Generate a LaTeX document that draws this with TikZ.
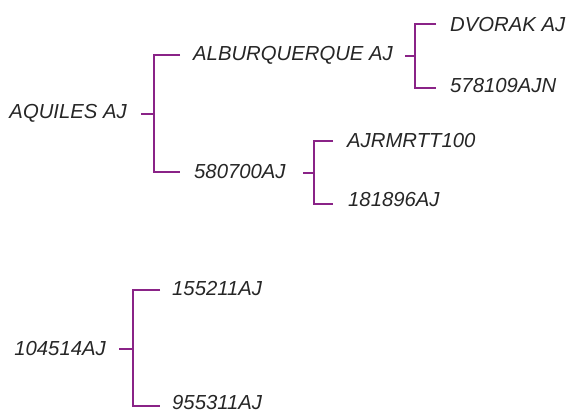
\documentclass[tikz,border=0pt]{standalone}
\usepackage{fontspec}
\setmainfont{Liberation Sans}
\definecolor{brc}{HTML}{8A2387}
\begin{document}
\begin{tikzpicture}[x=1pt,y=-1pt,
  lbl/.style={inner sep=0pt,font=\fontsize{20.3pt}{22pt}\selectfont\itshape,text=black!85},
  br/.style={draw=brc,line width=2.2pt,line cap=butt}]
\useasboundingbox (0,0) rectangle (567,414);
% tree 1
\node[lbl,anchor=east] (aq) at (127,113) {AQUILES AJ};
\node[lbl,anchor=west] (alb) at (193,55) {ALBURQUERQUE AJ};
\node[lbl,anchor=west] (n580) at (194,172) {580700AJ};
\node[lbl,anchor=west] (dv) at (450,25) {DVORAK AJ};
\node[lbl,anchor=west] (n578) at (450,86) {578109AJN};
\node[lbl,anchor=west] (ajr) at (347,141) {AJRMRTT100};
\node[lbl,anchor=west] (n181) at (348,200) {181896AJ};
% tree 2
\node[lbl,anchor=east] (n104) at (106,349) {104514AJ};
\node[lbl,anchor=west] (n155) at (172,289) {155211AJ};
\node[lbl,anchor=west] (n955) at (172,403) {955311AJ};
% joints
\coordinate (j1) at (154,114);
\coordinate (j2) at (415,56);
\coordinate (j3) at (314,173);
\coordinate (j4) at (133,349);
% brackets
\draw[br] ([xshift=14pt]aq.east |- j1) -- (j1);
\draw[br] ([xshift=-13pt]alb.west) -| (j1) |- ([xshift=-14pt]n580.west);
\draw[br] (405,56) -- (j2);
\draw[br] ([xshift=-14pt]dv.west |- 0,24) -| (j2) |- ([xshift=-14pt]n578.west |- 0,88);
\draw[br] (303,173) -- (j3);
\draw[br] ([xshift=-14pt]ajr.west) -| (j3) |- ([xshift=-15pt]n181.west |- 0,204);
\draw[br] ([xshift=13pt]n104.east) -- (j4);
\draw[br] ([xshift=-12pt]n155.west |- 0,290) -| (j4) |- ([xshift=-12pt]n955.west |- 0,406);
\end{tikzpicture}
\end{document}
